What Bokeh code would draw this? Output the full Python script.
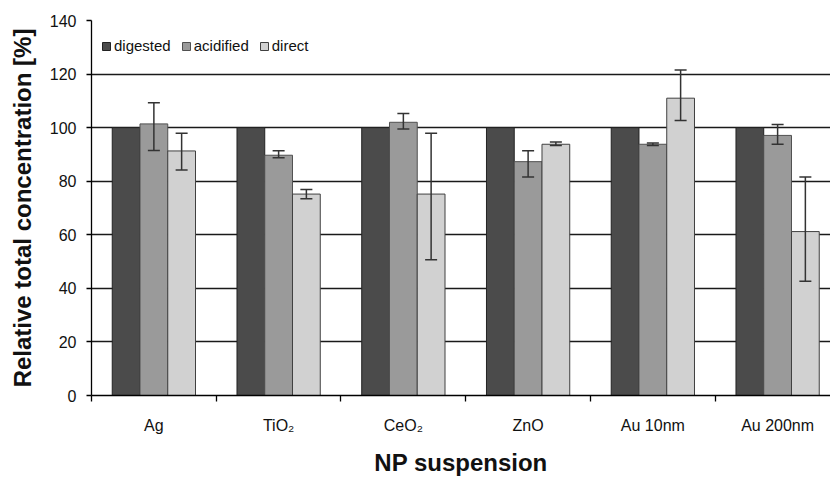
import numpy as np
from bokeh.plotting import figure
from bokeh.models import (ColumnDataSource, Range1d, FixedTicker, Whisker, TeeHead,
                          Legend)
from bokeh.transform import dodge
from bokeh.embed import file_html
from bokeh.resources import INLINE

# ---- data ----
categories = ["Ag", "TiO\u2082", "CeO\u2082", "ZnO", "Au 10nm", "Au 200nm"]
digested = [100, 100, 100, 100, 100, 100]
acidified = [101.4, 89.7, 102.0, 87.3, 93.8, 97.1]
acidified_low = [91.5, 88.8, 99.5, 81.6, 93.3, 93.8]
acidified_high = [109.3, 91.4, 105.3, 91.4, 94.3, 101.2]
direct = [91.3, 75.2, 75.2, 93.8, 111.0, 61.2]
direct_low = [84.2, 73.5, 50.7, 93.3, 102.7, 42.7]
direct_high = [97.9, 76.9, 97.9, 94.6, 121.5, 81.6]
y_ticks = [0, 20, 40, 60, 80, 100, 120, 140]

FONT = "Liberation Sans"
centers = [i + 0.5 for i in range(len(categories))]
bounds = list(range(len(categories) + 1))

src = ColumnDataSource(dict(xc=centers, digested=digested, acidified=acidified,
                            acid_lo=acidified_low, acid_hi=acidified_high,
                            direct=direct, dir_lo=direct_low, dir_hi=direct_high))

p = figure(width=830, height=478, output_backend="svg", toolbar_location=None,
           x_range=Range1d(0, 5.924), y_range=Range1d(0, 140),
           min_border_left=91, min_border_right=0, min_border_top=20,
           min_border_bottom=80)
p.outline_line_color = None
p.background_fill_color = "white"

w = 0.2225
r1 = p.vbar(x=dodge("xc", -w, range=p.x_range), top="digested", width=w, source=src,
            fill_color="#4b4b4b", line_color="#222222", line_width=1)
r2 = p.vbar(x=dodge("xc", 0, range=p.x_range), top="acidified", width=w, source=src,
            fill_color="#9a9a9a", line_color="#505050", line_width=1)
r3 = p.vbar(x=dodge("xc", w, range=p.x_range), top="direct", width=w, source=src,
            fill_color="#d1d1d1", line_color="#404040", line_width=1)

for base, lo, hi in [(dodge("xc", 0, range=p.x_range), "acid_lo", "acid_hi"),
                     (dodge("xc", w, range=p.x_range), "dir_lo", "dir_hi")]:
    wk = Whisker(base=base, lower=lo, upper=hi, source=src, dimension="height",
                 line_color="#333333", line_width=1.5, level="annotation",
                 upper_head=TeeHead(size=12, line_color="#333333", line_width=1.5),
                 lower_head=TeeHead(size=12, line_color="#333333", line_width=1.5))
    p.add_layout(wk)

# grid
p.xgrid.grid_line_color = None
p.ygrid.grid_line_color = "#1a1a1a"
p.ygrid.grid_line_width = 1.5

# y axis
p.yaxis.ticker = FixedTicker(ticks=y_ticks)
p.yaxis.axis_label = "Relative total concentration [%]"
p.yaxis.axis_label_text_font = FONT
p.yaxis.axis_label_text_font_style = "bold"
p.yaxis.axis_label_text_font_size = "24px"
p.yaxis.axis_label_text_color = "#111111"
p.yaxis.axis_label_standoff = 11
p.yaxis.major_label_text_font = FONT
p.yaxis.major_label_text_font_size = "16px"
p.yaxis.major_label_text_color = "#111111"
p.yaxis.major_label_standoff = 10
p.yaxis.major_tick_out = 5
p.yaxis.major_tick_in = 0
p.yaxis.minor_tick_line_color = None
p.yaxis.axis_line_color = "black"
p.yaxis.axis_line_width = 1.3
p.yaxis.major_tick_line_color = "black"
p.yaxis.major_tick_line_width = 1.3

# x axis
p.xaxis.ticker = FixedTicker(ticks=centers, minor_ticks=bounds)
p.xaxis.major_label_overrides = {c: n for c, n in zip(centers, categories)}
p.xaxis.major_tick_line_color = None
p.xaxis.major_tick_out = 0
p.xaxis.major_tick_in = 0
p.xaxis.minor_tick_out = 6
p.xaxis.minor_tick_in = 0
p.xaxis.minor_tick_line_color = "black"
p.xaxis.minor_tick_line_width = 1.3
p.xaxis.axis_line_color = "black"
p.xaxis.axis_line_width = 1.3
p.xaxis.major_label_text_font = FONT
p.xaxis.major_label_text_font_size = "16px"
p.xaxis.major_label_text_color = "#111111"
p.xaxis.major_label_standoff = 15
p.xaxis.axis_label = "NP suspension"
p.xaxis.axis_label_text_font = FONT
p.xaxis.axis_label_text_font_style = "bold"
p.xaxis.axis_label_text_font_size = "24px"
p.xaxis.axis_label_text_color = "#111111"
p.xaxis.axis_label_standoff = 12

legend = Legend(items=[("digested", [r1]), ("acidified", [r2]), ("direct", [r3])],
                orientation="horizontal", location=(10, 341),
                margin=0, padding=0, spacing=10, label_standoff=3,
                glyph_width=10, glyph_height=10, label_height=15,
                label_text_font=FONT, label_text_font_size="15px",
                label_text_color="#111111",
                background_fill_alpha=0, border_line_color=None)
p.add_layout(legend, "center")

open("out.html", "w").write(file_html(p, INLINE))
